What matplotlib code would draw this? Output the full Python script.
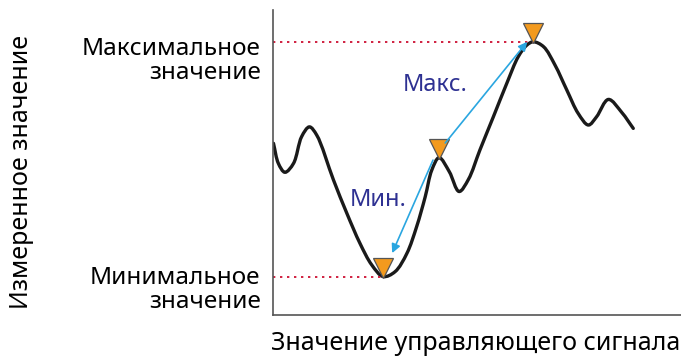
import matplotlib
matplotlib.use("Agg")
import matplotlib.pyplot as plt
import matplotlib.transforms as mtransforms
from matplotlib.path import Path
from matplotlib.patches import PathPatch

plt.rcParams['font.family'] = ['Noto Sans', 'DejaVu Sans']

x = [0.1, 1.3, 2.9, 5.0, 7.0, 8.9, 10.7, 14.8, 18.1, 21.3, 24.2, 27.0, 29.9,
     32.8, 35.2, 37.3, 38.9, 40.7, 43.2, 45.6, 47.9, 50.7, 54.0, 57.3, 60.1,
     62.2, 63.8, 66.3, 69.1, 72.0, 74.8, 77.3, 79.3, 82.2, 85.5, 88.3]
y = [56.3, 49.7, 46.8, 49.7, 58.5, 61.7, 59.0, 44.3, 33.3, 23.5, 16.4, 12.6,
     14.2, 20.2, 29.0, 38.8, 47.5, 51.6, 47.0, 40.5, 44.5, 54.1, 65.0, 76.0,
     84.7, 88.5, 89.6, 88.0, 82.0, 73.8, 66.1, 62.3, 65.0, 70.7, 66.4, 61.2]

# marked points: global min, local peak, global max
mark_x = [27.0, 40.7, 63.8]
mark_y = [12.6, 51.6, 89.6]

# arrows (start, end)
arrow_max = [(42.2, 56.4), (62.3, 89.6)]
arrow_min = [(39.2, 50.8), (29.2, 20.3)]

y_label = 'Измеренное значение'
x_label = 'Значение управляющего сигнала'
max_label = 'Максимальное\nзначение'
min_label = 'Минимальное\nзначение'

fig = plt.figure(figsize=(6.81, 3.6), dpi=100)
ax = fig.add_axes([0.401, 0.125, 0.599, 0.847])
ax.set_xlim(0, 100)
ax.set_ylim(0, 100)
ax.spines['top'].set_visible(False)
ax.spines['right'].set_visible(False)
for s in ('left', 'bottom'):
    ax.spines[s].set_color('#555555')
    ax.spines[s].set_linewidth(1.2)
ax.set_xticks([])
ax.set_yticks([])

# dotted reference lines
ax.hlines([mark_y[2], mark_y[0]], 0, [mark_x[2], mark_x[0]],
          colors='#d02040', linestyles=(0, (1.2, 2.4)), linewidth=1.4)

# smooth curve through the read points: centripetal Catmull-Rom as Bezier
sx, sy = 4.08, 3.05  # rough px per data unit, for the knot spacing
P = list(zip(x, y))
P = [(2 * P[0][0] - P[1][0], 2 * P[0][1] - P[1][1])] + P + \
    [(2 * P[-1][0] - P[-2][0], 2 * P[-1][1] - P[-2][1])]


def dist(a, b):
    return (((a[0] - b[0]) * sx) ** 2 + ((a[1] - b[1]) * sy) ** 2) ** 0.25


verts = [P[1]]
codes = [Path.MOVETO]
for i in range(1, len(P) - 2):
    p0, p1, p2, p3 = P[i - 1], P[i], P[i + 1], P[i + 2]
    d1, d2, d3 = dist(p0, p1), dist(p1, p2), dist(p2, p3)
    b1 = tuple((d1 ** 2 * p2[k] - d2 ** 2 * p0[k]
                + (2 * d1 ** 2 + 3 * d1 * d2 + d2 ** 2) * p1[k])
               / (3 * d1 * (d1 + d2)) for k in range(2))
    b2 = tuple((d3 ** 2 * p1[k] - d2 ** 2 * p3[k]
                + (2 * d3 ** 2 + 3 * d3 * d2 + d2 ** 2) * p2[k])
               / (3 * d3 * (d3 + d2)) for k in range(2))
    verts += [b1, b2, p2]
    codes += [Path.CURVE4] * 3
ax.add_patch(PathPatch(Path(verts, codes), facecolor='none',
                       edgecolor='#1a1a1a', linewidth=2.4,
                       capstyle='round', joinstyle='round'))

# arrows
for (p0, p1) in (arrow_max, arrow_min):
    ax.annotate('', xy=p1, xytext=p0,
                arrowprops=dict(arrowstyle='-|>', color='#2aa6e0', lw=1.2,
                                mutation_scale=13, shrinkA=0, shrinkB=0))

# triangle markers sitting on top of the points
off = mtransforms.offset_copy(ax.transData, fig=fig, x=0, y=6.5, units='points')
ax.plot(mark_x, mark_y, linestyle='none', marker='v', markersize=14,
        markerfacecolor='#f39a1e', markeredgecolor='#555555',
        markeredgewidth=0.9, transform=off)

ax.text(39.7, 75.4, 'Макс.', color='#2e3192', fontsize=17,
        ha='center', va='center')
ax.text(25.7, 37.7, 'Мин.', color='#2e3192', fontsize=17,
        ha='center', va='center')

blend = mtransforms.blended_transform_factory(ax.transAxes, ax.transData)
ax.annotate(max_label, xy=(0, mark_y[2]), xycoords=blend, xytext=(-9, -14),
            textcoords='offset points', ha='right', va='center',
            fontsize=17.5, linespacing=1.0)
ax.annotate(min_label, xy=(0, mark_y[0]), xycoords=blend, xytext=(-9, -9.5),
            textcoords='offset points', ha='right', va='center',
            fontsize=17.5, linespacing=1.0)

fig.text(0.032, 0.523, y_label, rotation=90, ha='center', va='center',
         fontsize=18)
fig.text(0.698, 0.047, x_label, ha='center', va='center', fontsize=18)

fig.savefig('out.png', dpi=100)
